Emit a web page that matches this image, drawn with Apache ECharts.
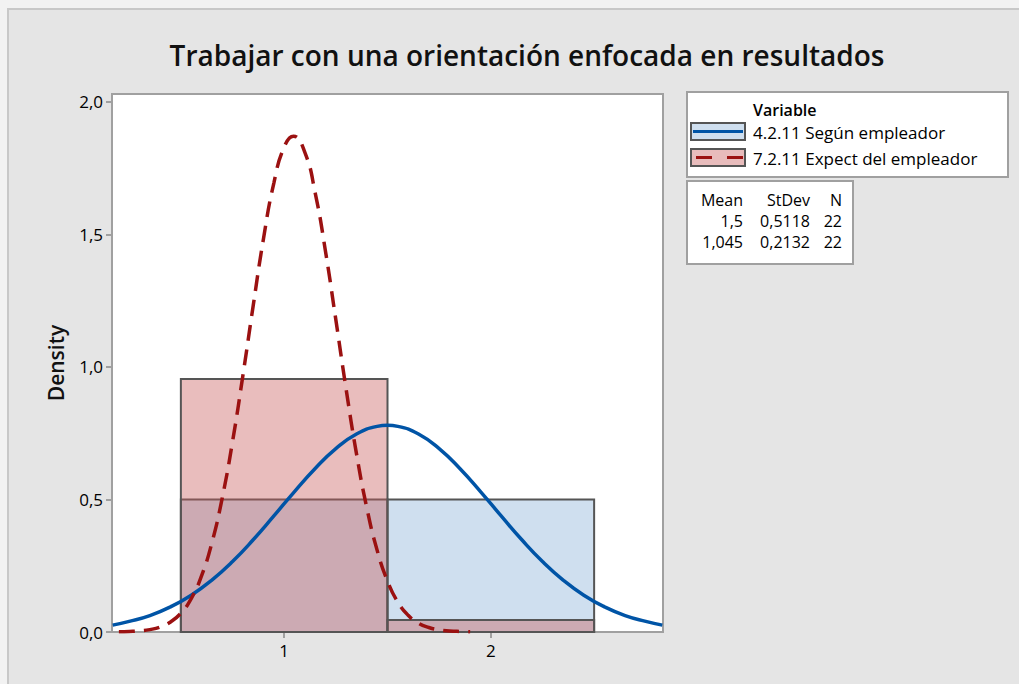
<!DOCTYPE html>
<html>
<head>
<meta charset="utf-8">
<script src="https://cdn.jsdelivr.net/npm/echarts@6/dist/echarts.min.js"></script>
<style>
  html, body { margin: 0; padding: 0; background: #f2f2f2; }
  #container { width: 1019px; height: 684px; }
</style>
</head>
<body>
<div id="container"></div>
<script>
var dom = document.getElementById("container");
var myChart = echarts.init(dom, null, { renderer: 'svg' });

// histogram bins [from, to, density]
var binEdges = [0.5, 1.5, 2.5];
var densSegun = [0.5, 0.5];
var densExpect = [0.9545, 0.0455];

// fitted normal curves
var xSegun = [0.17, 0.25, 0.35, 0.45, 0.55, 0.65, 0.75, 0.85, 0.95, 1.05, 1.15, 1.25, 1.35, 1.45, 1.5,
              1.55, 1.65, 1.75, 1.85, 1.95, 2.05, 2.15, 2.25, 2.35, 2.45, 2.55, 2.65, 2.75, 2.83];
var ySegun = [0.026, 0.040, 0.062, 0.095, 0.139, 0.196, 0.266, 0.348, 0.438, 0.530, 0.617, 0.692, 0.747, 0.776, 0.780,
              0.776, 0.747, 0.692, 0.617, 0.530, 0.438, 0.348, 0.266, 0.196, 0.139, 0.095, 0.062, 0.040, 0.026];
var xExpect = [0.20, 0.25, 0.30, 0.35, 0.40, 0.45, 0.50, 0.55, 0.60, 0.65, 0.70, 0.75, 0.80, 0.85, 0.90, 0.95,
               1.00, 1.045, 1.10, 1.15, 1.20, 1.25, 1.30, 1.35, 1.40, 1.45, 1.50, 1.55, 1.60, 1.65, 1.70, 1.75,
               1.80, 1.85, 1.90];
var yExpect = [0.001, 0.002, 0.004, 0.009, 0.019, 0.038, 0.071, 0.126, 0.212, 0.336, 0.505, 0.718, 0.967, 1.231, 1.485, 1.694,
               1.830, 1.871, 1.810, 1.657, 1.436, 1.178, 0.915, 0.672, 0.468, 0.308, 0.192, 0.113, 0.063, 0.033, 0.017, 0.008,
               0.004, 0.002, 0.001];

var names = ['4.2.11 Según empleador', '7.2.11 Expect del empleador'];
var statHead = ['Mean', 'StDev', 'N'];
var statRows = [['1,5', '0,5118', '22'], ['1,045', '0,2132', '22']];
var xTicks = [1, 2];
var yTicks = [0, 0.5, 1, 1.5, 2];

var font = '"Open Sans", "Noto Sans", sans-serif';
var blue = '#0054a6', red = '#9b1111';

function binData(dens) {
    var out = [];
    for (var i = 0; i < dens.length; i++) out.push([binEdges[i], binEdges[i + 1], dens[i]]);
    return out;
}
function pairs(xs, ys) {
    return xs.map(function (x, i) { return [x, ys[i]]; });
}
function barRender(fill) {
    return function (params, api) {
        var p0 = api.coord([api.value(0), 0]);
        var p1 = api.coord([api.value(1), api.value(2)]);
        return {
            type: 'rect',
            shape: { x: p0[0], y: p1[1], width: p1[0] - p0[0], height: p0[1] - p1[1] },
            style: { fill: fill, stroke: '#555555', lineWidth: 2 }
        };
    };
}

var graphics = [
    { type: 'rect', left: 7, top: 8, z: -10, shape: { x: 0, y: 0, width: 1030, height: 700 },
      style: { fill: '#e5e5e5', stroke: '#c8c8c8', lineWidth: 2 } },
    { type: 'rect', z: 1, shape: { x: 687, y: 92, width: 321, height: 85 },
      style: { fill: '#ffffff', stroke: '#a0a0a0', lineWidth: 2 } },
    { type: 'text', z: 2, x: 753, y: 110, style: { text: 'Variable', font: '600 16px ' + font, fill: '#000', verticalAlign: 'middle' } },
    { type: 'rect', z: 2, shape: { x: 691, y: 123, width: 54, height: 17 }, style: { fill: '#cfdfef', stroke: '#555555', lineWidth: 2 } },
    { type: 'line', z: 3, shape: { x1: 693, y1: 131.5, x2: 743, y2: 131.5 }, style: { stroke: blue, lineWidth: 3 } },
    { type: 'text', z: 2, x: 753, y: 132, style: { text: names[0], font: '500 17px ' + font, fill: '#000', verticalAlign: 'middle' } },
    { type: 'rect', z: 2, shape: { x: 691, y: 149, width: 54, height: 17 }, style: { fill: '#e8bcbc', stroke: '#555555', lineWidth: 2 } },
    { type: 'line', z: 3, shape: { x1: 696, y1: 157.5, x2: 743, y2: 157.5 }, style: { stroke: red, lineWidth: 3, lineDash: [16, 15] } },
    { type: 'text', z: 2, x: 753, y: 158, style: { text: names[1], font: '500 17px ' + font, fill: '#000', verticalAlign: 'middle' } },
    { type: 'rect', z: 1, shape: { x: 687, y: 181, width: 166, height: 83 },
      style: { fill: '#ffffff', stroke: '#a0a0a0', lineWidth: 2 } }
];
var colRight = [743, 810, 842];
var rowY = [200, 221, 242];
[statHead].concat(statRows).forEach(function (row, r) {
    row.forEach(function (t, c) {
        graphics.push({ type: 'text', z: 2, x: colRight[c], y: rowY[r],
            style: { text: t, font: '500 16px ' + font, fill: '#000', align: 'right', verticalAlign: 'middle' } });
    });
});

option = {
    backgroundColor: '#f2f2f2',
    animation: false,
    title: {
        text: 'Trabajar con una orientación enfocada en resultados',
        left: 522, top: 36, textAlign: 'center',
        textStyle: { fontFamily: font, fontSize: 28, fontWeight: 600, color: '#111' }
    },
    graphic: graphics,
    grid: {
        left: 112, top: 94, width: 551, height: 538,
        show: true, backgroundColor: '#ffffff', borderColor: '#a0a0a0', borderWidth: 2
    },
    xAxis: {
        type: 'value', min: 0.1667, max: 2.8333,
        splitLine: { show: false },
        axisLine: { show: false },
        axisTick: { show: true, length: 6, customValues: xTicks, lineStyle: { color: '#a0a0a0', width: 2 } },
        axisLabel: { customValues: xTicks, color: '#000', fontSize: 17, fontWeight: 500, fontFamily: font, margin: 10 }
    },
    yAxis: {
        type: 'value', min: 0, max: 2.03,
        name: 'Density', nameLocation: 'middle', nameGap: 46,
        nameTextStyle: { fontFamily: font, fontSize: 21, fontWeight: 600, color: '#111' },
        splitLine: { show: false },
        axisLine: { show: false },
        axisTick: { show: true, length: 6, customValues: yTicks, lineStyle: { color: '#a0a0a0', width: 2 } },
        axisLabel: {
            customValues: yTicks, color: '#000', fontSize: 17, fontWeight: 500, fontFamily: font, margin: 9,
            formatter: function (v) { return v.toFixed(1).replace('.', ','); }
        }
    },
    series: [
        { type: 'custom', name: names[0], data: binData(densSegun), encode: { x: [0, 1], y: 2 },
          renderItem: barRender('#cfdfef'), z: 1 },
        { type: 'custom', name: names[1], data: binData(densExpect), encode: { x: [0, 1], y: 2 },
          renderItem: barRender('rgba(200,91,91,0.4)'), z: 2 },
        { type: 'line', data: pairs(xSegun, ySegun), smooth: true, showSymbol: false, z: 3,
          lineStyle: { color: blue, width: 3.5 } },
        { type: 'line', data: pairs(xExpect, yExpect), smooth: true, showSymbol: false, z: 4,
          lineStyle: { color: red, width: 3.5, type: [16, 9] } }
    ]
};

if (option && typeof option === "object") {
    myChart.setOption(option, false);
}
</script>
</body>
</html>
